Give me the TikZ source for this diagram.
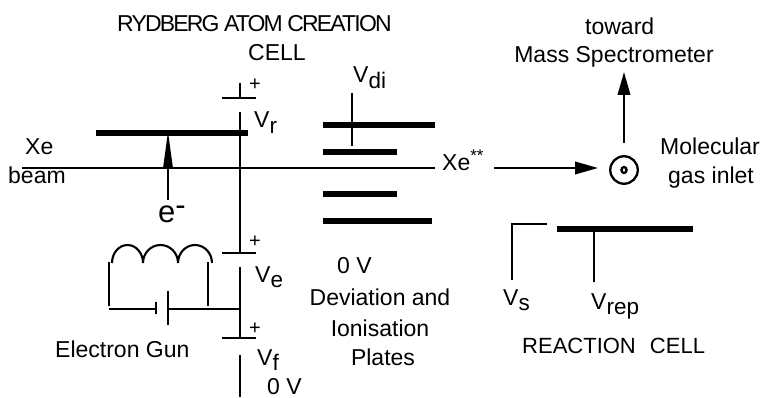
\documentclass[tikz,border=0pt]{standalone}
\usepackage{fontspec}
\setmainfont{Liberation Sans}
\usetikzlibrary{arrows.meta,shapes.geometric}
\newcommand{\Vlow}[1]{V\raisebox{-5.5pt}{\fontsize{22.5}{26}\selectfont #1}}
\tikzset{
  wire/.style={line width=2.1pt,black},
  plate/.style={line width=5.7pt,black},
  thinplate/.style={line width=2.5pt,black},
  lab/.style={inner sep=0pt,font=\fontsize{23}{26}\selectfont,text=black,anchor=base west},
  mid/.style={lab,anchor=base},
  tight/.style={lab,font=\fontsize{23}{26}\selectfont\addfontfeature{LetterSpace=-8}},
  big/.style={lab,font=\fontsize{31}{34}\selectfont},
  small/.style={inner sep=0pt,anchor=center,font=\fontsize{20}{22}\selectfont},
  arr/.style={wire,-{Triangle[length=23pt,width=12.5pt]}},
  narrow/.style={wire,-{Triangle[length=36pt,width=9pt]}}
}
\begin{document}
\begin{tikzpicture}[x=1pt,y=-1pt]
\useasboundingbox (0,0) rectangle (763,398);
% texts
\node[tight] (title1) at (117,32) {RYDBERG ATOM CREATION};
\node[lab] (title2) at (248,61) {CELL};
\node[lab] (toward) at (585,35) {toward};
\node[mid] (ms) at (614,63) {Mass Spectrometer};
\node[lab] (mol) at (660,155) {Molecular};
\node[lab] (inlet) at (668,184) {gas inlet};
\node[lab] (xe) at (25,155) {Xe};
\node[lab] (beam) at (8,184) {beam};
\node[big] (em) at (158,223) {e\raisebox{7pt}{-}};
\node[lab] (vr) at (254,128) {\Vlow{r}};
\node[lab] (vdi) at (353,83) {\Vlow{di}};
\node[lab] (ve) at (255,282) {\Vlow{e}};
\node[lab] (vf) at (257,365) {\Vlow{f}};
\node[lab] (zf) at (267,394) {0 V};
\node[lab] (zv) at (337,273) {0 V};
\node[mid] (dev) at (380,305) {Deviation and};
\node[mid] (ion) at (380,336) {Ionisation};
\node[mid] (pl) at (383,365) {Plates};
\node[lab] (gun) at (55,357) {Electron Gun};
\node[lab] (xess) at (442,171) {Xe\raisebox{9pt}{\fontsize{17}{20}\selectfont **}};
\node[lab] (vs) at (503,305) {\Vlow{s}};
\node[lab] (vrep) at (591,309) {\Vlow{rep}};
\node[lab,font=\fontsize{22}{26}\selectfont] (rc) at (522,353) {REACTION\hspace{8pt} CELL};
\node[small] (pa) at (255,85) {+};
\node[small] (pb) at (255,242) {+};
\node[small] (pc) at (255,329) {+};
% coordinates
\coordinate (beamL) at (22,168);
\coordinate (beamR) at (435,168);
\coordinate (xeL) at (494,168);
\coordinate (xeR) at (598,168);
\coordinate (upB) at (624,143);
\coordinate (upT) at (624,72);
\coordinate (eB) at (168,200);
\coordinate (eT) at (168,131);
% beam and arrows
\draw[wire] (beamL) -- (beamR);
\draw[arr] (xeL) -- (xeR);
\draw[arr] (upB) -- (upT);
% Rydberg plate
\draw[plate] (96,133) -- (248,133);
\draw[narrow] (eB) -- (eT);
% inlet symbol
\node[circle,draw=black,line width=2.3pt,minimum size=27.5pt,inner sep=0pt] (inletc) at (624,170) {};
\node[ellipse,draw=black,line width=2.4pt,minimum width=5pt,minimum height=6pt,inner sep=0pt] (inletd) at (624,170) {};
% supply chain
\draw[thinplate] (222,98) -- (256,98);
\draw[wire] (240,83) -- (240,98);
\draw[wire] (240,112) -- (240,253);
\draw[thinplate] (222,253) -- (256,253);
\draw[wire] (240,267) -- (240,338);
\draw[thinplate] (222,338) -- (256,338);
\draw[wire] (240,355) -- (240,397);
% gun
\draw[wire] (112,263) arc[start angle=180,end angle=360,x radius=15.5,y radius=18]
  arc[start angle=180,end angle=360,x radius=17.5,y radius=18]
  arc[start angle=180,end angle=360,x radius=17,y radius=18];
\draw[wire] (109,262) -- (109,306);
\draw[wire] (208,262) -- (208,306);
\draw[wire] (109,309) -- (156,309);
\draw[wire] (156,302) -- (156,314);
\draw[wire] (168,291) -- (168,325);
\draw[wire] (169,309) -- (240,309);
% deviation plates
\draw[plate] (323,125) -- (435,125);
\draw[plate] (323,152) -- (397,152);
\draw[plate] (323,194) -- (397,194);
\draw[plate] (323,221) -- (432,221);
\draw[wire] (352,93) -- (352,146);
% reaction cell
\draw[wire] (512,280) -- (512,224) -- (547,224);
\draw[plate] (557,229) -- (693,229);
\draw[wire] (594,229) -- (594,282);
\end{tikzpicture}
\end{document}
